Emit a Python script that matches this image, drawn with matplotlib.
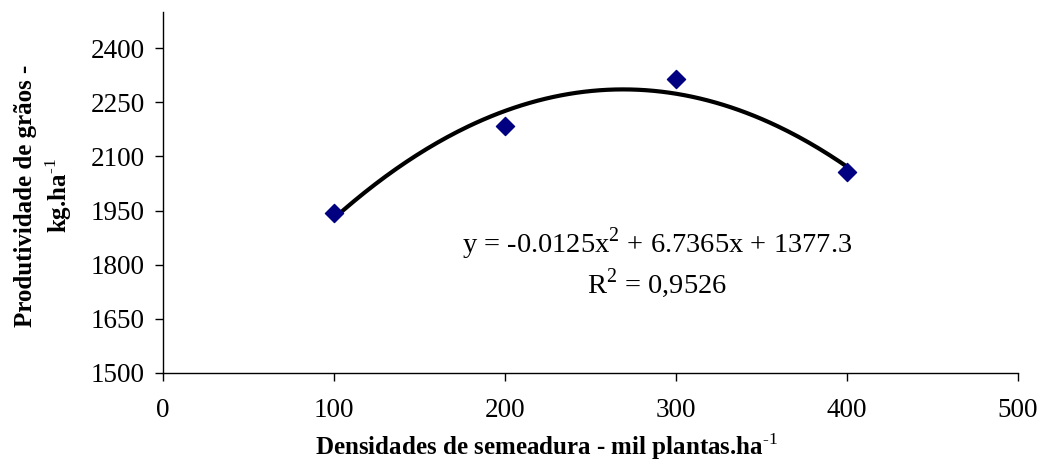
import numpy as np
import matplotlib
matplotlib.use('Agg')
import matplotlib.pyplot as plt

plt.rcParams['font.family'] = ['Liberation Serif', 'DejaVu Serif']
plt.rcParams['mathtext.fontset'] = 'custom'
plt.rcParams['mathtext.rm'] = 'Liberation Serif'

# data
densidades = [100, 200, 300, 400]
produtividade = [1942, 2185, 2315, 2058]
x_ticks = [0, 100, 200, 300, 400, 500]
y_ticks = [1500, 1650, 1800, 1950, 2100, 2250, 2400]
equacao = 'y = -0.0125x$^{2}$ + 6.7365x + 1377.3'
r2_text = 'R$^{2}$ = 0,9526'

fig = plt.figure(figsize=(10.4, 4.66), dpi=100)
ax = fig.add_axes([0.1567, 0.1996, 0.8221, 0.7744])

# polynomial trendline (order 2) over the data range
coef = np.polyfit(densidades, produtividade, 2)
xs = np.linspace(min(densidades), max(densidades), 200)
ax.plot(xs, np.polyval(coef, xs), color='black', lw=3, zorder=2)

ax.scatter(densidades, produtividade, marker='D', s=85, color='#000080', zorder=3)

ax.set_xlim(0, 500)
ax.set_ylim(1500, 2500)
ax.set_xticks(x_ticks)
ax.set_yticks(y_ticks)
ax.tick_params(direction='out', length=6, width=1, labelsize=19.5)
ax.tick_params(axis='x', pad=12)
ax.tick_params(axis='y', pad=7)

for side in ['top', 'right']:
    ax.spines[side].set_visible(False)
for side in ['left', 'bottom']:
    ax.spines[side].set_linewidth(1)

fig.text(547 / 1040, 1 - 447 / 466,
         'Densidades de semeadura - mil plantas.ha$^{\\text{-1}}$',
         fontsize=18, fontweight='bold', ha='center', va='center')
fig.text(44 / 1040, 1 - 196 / 466,
         'Produtividade de grãos -\nkg.ha$^{\\text{-1}}$',
         fontsize=18, fontweight='bold', ha='center', va='center',
         rotation=90, multialignment='center', linespacing=1.3)

ax.text(289, 1859, equacao, fontsize=20.5, ha='center', va='center')
ax.text(289, 1748, r2_text, fontsize=20.5, ha='center', va='center')

fig.savefig('out.png', dpi=100)
